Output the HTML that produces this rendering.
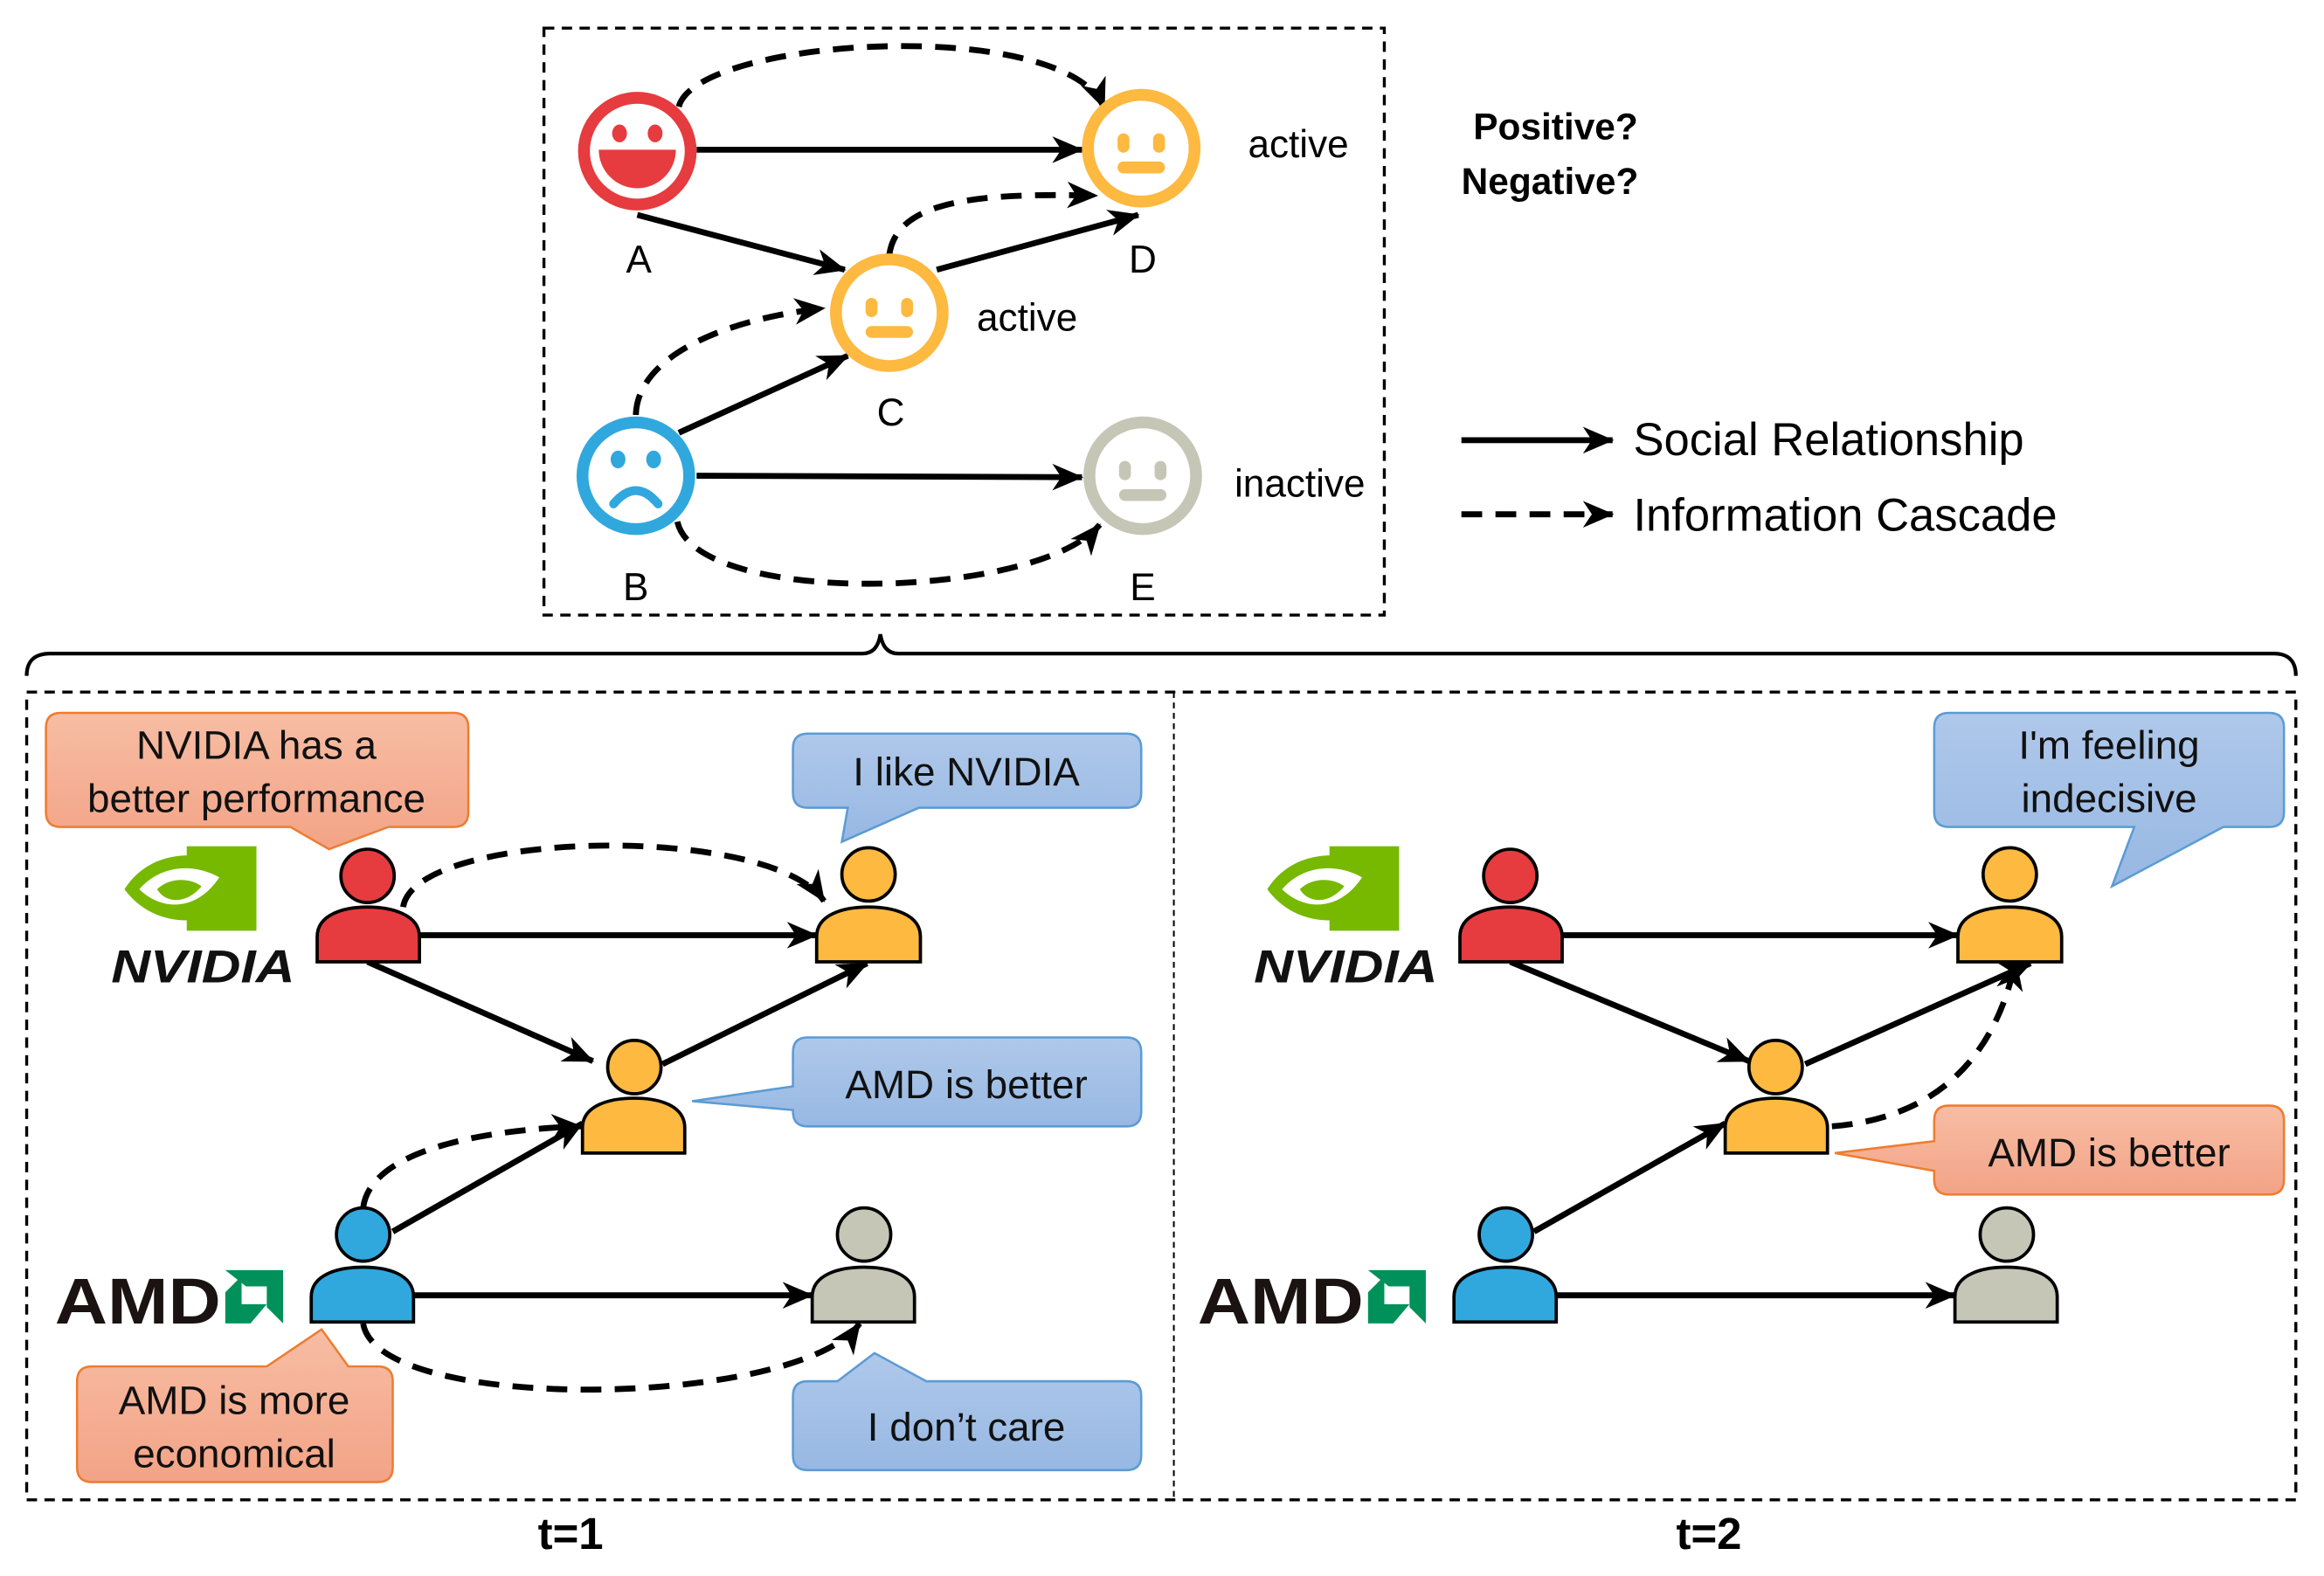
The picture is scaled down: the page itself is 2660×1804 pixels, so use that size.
<!DOCTYPE html>
<html><head><meta charset="utf-8"><style>
html,body{margin:0;padding:0;background:#fff}
svg{display:block}
text{font-family:"Liberation Sans","DejaVu Sans",sans-serif}
</style></head><body>
<svg width="2660" height="1804" viewBox="0 0 1568 1063.4" xmlns="http://www.w3.org/2000/svg">
<defs>
<marker id="ah" markerUnits="userSpaceOnUse" markerWidth="22" markerHeight="20" refX="20" refY="10" orient="auto">
<path d="M0,1 L21,10 L0,19 L6,10 Z" fill="#000"/></marker>
<linearGradient id="og" x1="0" y1="0" x2="0" y2="1"><stop offset="0" stop-color="#F7BDA4"/><stop offset="1" stop-color="#F3A386"/></linearGradient>
<linearGradient id="bg" x1="0" y1="0" x2="0" y2="1"><stop offset="0" stop-color="#AFC8EA"/><stop offset="1" stop-color="#97B8E3"/></linearGradient>
</defs>

<!-- top box -->
<rect x="367" y="19" width="567" height="396" fill="none" stroke="#000" stroke-width="2" stroke-dasharray="7,5"/>

<g stroke="#000" stroke-width="4" fill="none" marker-end="url(#ah)">
<line x1="470" y1="101" x2="730" y2="101"/>
<line x1="430" y1="145" x2="570" y2="182"/>
<line x1="632" y1="182" x2="768" y2="145"/>
<line x1="458" y1="292" x2="572" y2="240"/>
<line x1="470" y1="321" x2="730" y2="322"/>
</g>
<g stroke="#000" stroke-width="4" fill="none" stroke-dasharray="14,9" marker-end="url(#ah)">
<path d="M458,72 C470,25 720,10 745,73"/>
<path d="M600,172 C605,135 660,130 740,132"/>
<path d="M429,280 C430,240 490,215 556,208"/>
<path d="M457,352 C470,410 700,405 742,354"/>
</g>

<!-- faces -->
<g>
<circle cx="430" cy="102" r="36" fill="#fff" stroke="#E63B3F" stroke-width="8"/>
<ellipse cx="418" cy="90" rx="5" ry="6" fill="#E63B3F"/><ellipse cx="442" cy="90" rx="5" ry="6" fill="#E63B3F"/>
<path d="M404,101 L456,101 A26,26 0 0 1 404,101 Z" fill="#E63B3F"/>
</g>
<g fill="#FDB940">
<circle cx="770" cy="100" r="36" fill="#fff" stroke="#FDB940" stroke-width="8"/>
<rect x="754" y="90" width="8" height="13" rx="4"/><rect x="778" y="90" width="8" height="13" rx="4"/>
<rect x="754" y="109" width="32" height="8" rx="4"/>
</g>
<g fill="#FDB940">
<circle cx="600" cy="211" r="36" fill="#fff" stroke="#FDB940" stroke-width="8"/>
<rect x="584" y="201" width="8" height="13" rx="4"/><rect x="608" y="201" width="8" height="13" rx="4"/>
<rect x="584" y="220" width="32" height="8" rx="4"/>
</g>
<g fill="#C5C6B6">
<circle cx="771" cy="321" r="36" fill="#fff" stroke="#C5C6B6" stroke-width="8"/>
<rect x="755" y="311" width="8" height="13" rx="4"/><rect x="779" y="311" width="8" height="13" rx="4"/>
<rect x="755" y="330" width="32" height="8" rx="4"/>
</g>
<g>
<circle cx="429" cy="321" r="36" fill="#fff" stroke="#30A8DE" stroke-width="8"/>
<ellipse cx="417" cy="310" rx="5" ry="6" fill="#30A8DE"/><ellipse cx="441" cy="310" rx="5" ry="6" fill="#30A8DE"/>
<path d="M414,340 Q429,322 444,340" fill="none" stroke="#30A8DE" stroke-width="6" stroke-linecap="round"/>
</g>

<g font-size="26" fill="#000" text-anchor="middle">
<text x="431" y="184">A</text><text x="771" y="184">D</text><text x="601" y="287">C</text>
<text x="429" y="405">B</text><text x="771" y="405">E</text>
<text x="876" y="106">active</text><text x="693" y="223">active</text><text x="877" y="335">inactive</text>
</g>

<!-- legend -->
<g font-size="25" font-weight="bold"><text x="994" y="94">Positive?</text><text x="986" y="131">Negative?</text></g>
<line x1="986" y1="297" x2="1088" y2="297" stroke="#000" stroke-width="4" marker-end="url(#ah)"/>
<line x1="986" y1="347" x2="1088" y2="347" stroke="#000" stroke-width="4" stroke-dasharray="14,9" marker-end="url(#ah)"/>
<g font-size="31"><text x="1102" y="307">Social Relationship</text><text x="1102" y="358">Information Cascade</text></g>

<!-- brace -->
<path d="M18,456 Q18,441 34,441 L582,441 Q592,441 594,428 Q596,441 606,441 L1534,441 Q1549,441 1549,456" fill="none" stroke="#000" stroke-width="2.5"/>

<!-- bottom box -->
<rect x="18" y="467" width="1531" height="545" fill="none" stroke="#000" stroke-width="2" stroke-dasharray="7,5"/>
<line x1="792" y1="467" x2="792" y2="1012" stroke="#000" stroke-width="1.2" stroke-dasharray="4,3"/>
<g font-size="30" font-weight="bold" text-anchor="middle"><text x="385" y="1045">t=1</text><text x="1153" y="1045">t=2</text></g>

<!-- callouts t=1 -->
<path d="M41,481 H306 Q316,481 316,491 V548 Q316,558 306,558 H262 L222,573 L196,558 H41 Q31,558 31,548 V491 Q31,481 41,481 Z" fill="url(#og)" stroke="#ED7D31" stroke-width="1.5"/>
<path d="M545,495 H760 Q770,495 770,505 V535 Q770,545 760,545 H620 L568,568 L572,545 H545 Q535,545 535,535 V505 Q535,495 545,495 Z" fill="url(#bg)" stroke="#5B9BD5" stroke-width="1.5"/>
<path d="M545,700 H760 Q770,700 770,710 V750 Q770,760 760,760 H545 Q535,760 535,750 V749 L467,743 L535,733 V710 Q535,700 545,700 Z" fill="url(#bg)" stroke="#5B9BD5" stroke-width="1.5"/>
<path d="M62,922 H180 L217,897 L235,922 H255 Q265,922 265,932 V990 Q265,1000 255,1000 H62 Q52,1000 52,990 V932 Q52,922 62,922 Z" fill="url(#og)" stroke="#ED7D31" stroke-width="1.5"/>
<path d="M545,932 H565 L590,913 L625,932 H760 Q770,932 770,942 V982 Q770,992 760,992 H545 Q535,992 535,982 V942 Q535,932 545,932 Z" fill="url(#bg)" stroke="#5B9BD5" stroke-width="1.5"/>
<g font-size="27" text-anchor="middle" fill="#111">
<text x="173" y="512">NVIDIA has a</text><text x="173" y="548">better performance</text>
<text x="652" y="530">I like NVIDIA</text>
<text x="652" y="741">AMD is better</text>
<text x="158" y="954">AMD is more</text><text x="158" y="990">economical</text>
<text x="652" y="972">I don’t care</text>
</g>

<!-- callouts t=2 -->
<path d="M1315,481 H1531 Q1541,481 1541,491 V548 Q1541,558 1531,558 H1500 L1425,598 L1440,558 H1315 Q1305,558 1305,548 V491 Q1305,481 1315,481 Z" fill="url(#bg)" stroke="#5B9BD5" stroke-width="1.5"/>
<path d="M1315,746 H1531 Q1541,746 1541,756 V796 Q1541,806 1531,806 H1315 Q1305,806 1305,796 V790 L1238,778 L1305,770 V756 Q1305,746 1315,746 Z" fill="url(#og)" stroke="#ED7D31" stroke-width="1.5"/>
<g font-size="27" text-anchor="middle" fill="#111">
<text x="1423" y="512">I'm feeling</text><text x="1423" y="548">indecisive</text>
<text x="1423" y="787">AMD is better</text>
</g>

<!-- arrows t=1 -->
<g stroke="#000" stroke-width="4" fill="none" marker-end="url(#ah)">
<line x1="283" y1="631" x2="551" y2="631"/>
<line x1="248" y1="649" x2="400" y2="716"/>
<line x1="447" y1="718" x2="585" y2="650"/>
<line x1="265" y1="831" x2="393" y2="758"/>
<line x1="279" y1="874" x2="548" y2="874"/>
</g>
<g stroke="#000" stroke-width="4" fill="none" stroke-dasharray="14,9" marker-end="url(#ah)">
<path d="M272,612 C280,560 520,555 556,608"/>
<path d="M245,815 C250,775 330,762 392,760"/>
<path d="M245,893 C255,955 540,950 580,893"/>
</g>
<!-- arrows t=2 -->
<g stroke="#000" stroke-width="4" fill="none" marker-end="url(#ah)">
<line x1="1054" y1="631" x2="1321" y2="631"/>
<line x1="1019" y1="649" x2="1180" y2="716"/>
<line x1="1218" y1="718" x2="1370" y2="650"/>
<line x1="1035" y1="831" x2="1164" y2="758"/>
<line x1="1050" y1="874" x2="1319" y2="874"/>
</g>
<path d="M1236,760 C1300,755 1345,720 1360,648" stroke="#000" stroke-width="4" fill="none" stroke-dasharray="14,9" marker-end="url(#ah)"/>

<!-- persons -->
<g stroke="#000" stroke-width="2.2">
<g fill="#E63B3F"><circle cx="248" cy="591" r="18"/><path d="M214,649 V632 C214,617 232,612 248,612 C264,612 283,617 283,632 V649 Z"/></g>
<g fill="#FDB940"><circle cx="586" cy="590" r="18"/><path d="M551,649 V632 C551,617 569,612 586,612 C603,612 621,617 621,632 V649 Z"/></g>
<g fill="#FDB940"><circle cx="428" cy="720" r="18"/><path d="M393,778 V761 C393,746 411,741 428,741 C445,741 462,746 462,761 V778 Z"/></g>
<g fill="#30A8DE"><circle cx="245" cy="833" r="18"/><path d="M210,892 V875 C210,860 228,855 245,855 C262,855 279,860 279,875 V892 Z"/></g>
<g fill="#C5C6B6"><circle cx="583" cy="833" r="18"/><path d="M548,892 V875 C548,860 566,855 583,855 C600,855 617,860 617,875 V892 Z"/></g>

<g fill="#E63B3F"><circle cx="1019" cy="591" r="18"/><path d="M985,649 V632 C985,617 1003,612 1019,612 C1035,612 1054,617 1054,632 V649 Z"/></g>
<g fill="#FDB940"><circle cx="1356" cy="590" r="18"/><path d="M1321,649 V632 C1321,617 1339,612 1356,612 C1373,612 1391,617 1391,632 V649 Z"/></g>
<g fill="#FDB940"><circle cx="1198" cy="720" r="18"/><path d="M1164,778 V761 C1164,746 1182,741 1198,741 C1214,741 1233,746 1233,761 V778 Z"/></g>
<g fill="#30A8DE"><circle cx="1016" cy="833" r="18"/><path d="M981,892 V875 C981,860 999,855 1016,855 C1033,855 1050,860 1050,875 V892 Z"/></g>
<g fill="#C5C6B6"><circle cx="1354" cy="833" r="18"/><path d="M1319,892 V875 C1319,860 1337,855 1354,855 C1371,855 1388,860 1388,875 V892 Z"/></g>
</g>

<!-- logos -->
<g id="nv">
<rect x="126" y="571" width="47" height="57" fill="#76B900"/>
<path d="M84,600 C100,575 130,572 160,584 L160,612 C130,628 100,622 84,600 Z" fill="#76B900"/>
<path d="M94,600 C108,584 130,582 148,592 C132,616 108,614 94,600 Z" fill="#fff"/>
<path d="M106,600 C114,592 128,592 136,598 C126,610 112,610 106,600 Z" fill="#76B900"/>
<text x="75" y="663" font-size="31" font-weight="bold" font-style="italic" fill="#111" textLength="124" lengthAdjust="spacingAndGlyphs">NVIDIA</text>
</g>
<g>
<rect x="897" y="571" width="47" height="57" fill="#76B900"/>
<path d="M855,600 C871,575 901,572 931,584 L931,612 C901,628 871,622 855,600 Z" fill="#76B900"/>
<path d="M865,600 C879,584 901,582 919,592 C903,616 879,614 865,600 Z" fill="#fff"/>
<path d="M877,600 C885,592 899,592 907,598 C897,610 883,610 877,600 Z" fill="#76B900"/>
<text x="846" y="663" font-size="31" font-weight="bold" font-style="italic" fill="#111" textLength="124" lengthAdjust="spacingAndGlyphs">NVIDIA</text>
</g>
<g>
<text x="37" y="893" font-size="44" font-weight="bold" fill="#1a1311" textLength="112" lengthAdjust="spacingAndGlyphs">AMD</text>
<path d="M152,857 H191 V893 L180,882 V868 H166 Z M152,872 L163,861 V880 H180 L169,893 H152 Z" fill="#00915A"/>
<text x="808" y="893" font-size="44" font-weight="bold" fill="#1a1311" textLength="112" lengthAdjust="spacingAndGlyphs">AMD</text>
<path d="M923,857 H962 V893 L951,882 V868 H937 Z M923,872 L934,861 V880 H951 L940,893 H923 Z" fill="#00915A"/>
</g>
</svg>
</body></html>
